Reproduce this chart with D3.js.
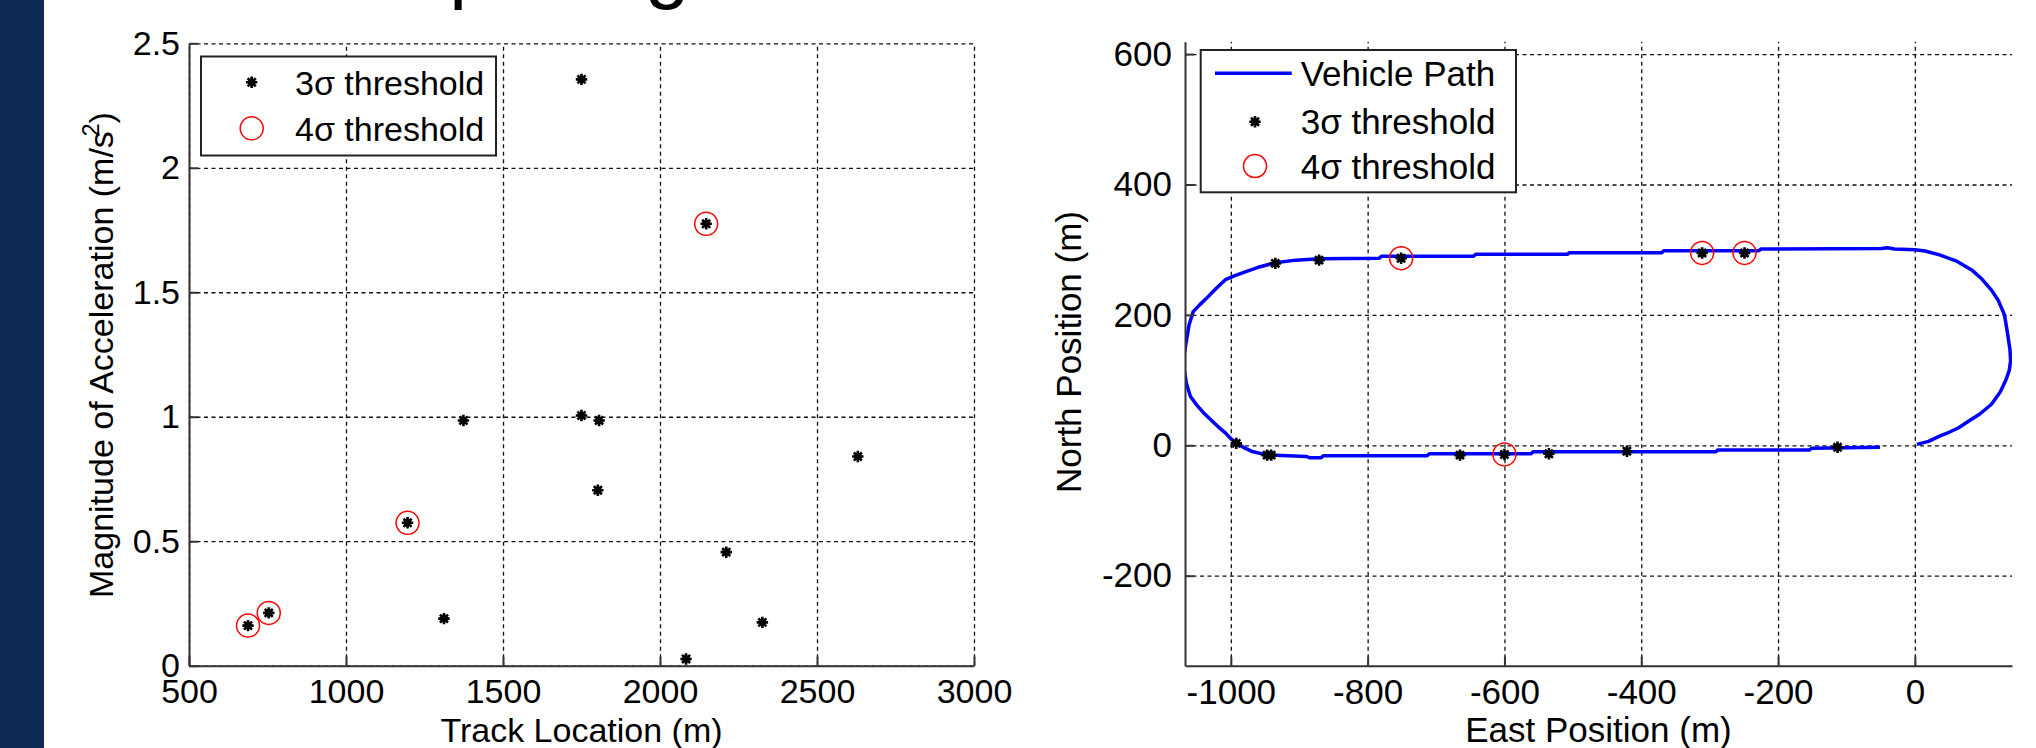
<!DOCTYPE html>
<html lang="en">
<head>
<meta charset="utf-8">
<script src="https://d3js.org/d3.v7.min.js"></script>
<style>
  body { margin: 0; background: #fff; }
  svg text { font-family: "Liberation Sans", Arial, sans-serif; fill: #000; }
  .grid line { stroke: #111; stroke-width: 1.3; stroke-dasharray: 4,3.5; }
  .grid path { display: none; }
  .axis path, .axis line { stroke: #333; stroke-width: 2; }
</style>
</head>
<body>
<div id="chart"></div>
<script>

// ---- left panel: acceleration spikes vs track location ----
var trackLoc3 = [688, 754, 1196, 1312, 1374, 1750, 1750, 1802, 1806, 2083, 2147, 2211, 2326, 2630];
var accel3    = [0.161, 0.212, 0.574, 0.189, 0.985, 2.355, 1.005, 0.705, 0.985, 0.027, 1.775, 0.456, 0.174, 0.84];
var trackLoc4 = [688, 754, 1196, 2147];
var accel4    = [0.161, 0.212, 0.574, 1.775];
var trackTicks = [500, 1000, 1500, 2000, 2500, 3000];
var accelTicks = [0, 0.5, 1, 1.5, 2, 2.5];

// ---- right panel: vehicle path with the same detections ----
var pathEast  = [3, 20, 36, 50, 64, 80, 95, 112, 125, 133, 138, 140, 139, 135, 131, 122, 112, 98, 83, 60, 36, 15, 0, -30, -40, -49,
                 -225, -228, -367, -370, -505, -508, -642, -645, -780, -783, -871, -905, -935,
                 -960, -979, -995, -1008, -1022, -1036, -1046, -1055, -1061, -1065, -1068, -1068, -1065, -1059, -1050, -1040, -1027, -1018, -1008, -1000, -992, -980, -970, -955, -944,
                 -890, -885, -868, -865, -713, -710, -561, -558, -291, -288, -154, -151, -51];
var pathNorth = [1.5, 6, 14, 20, 27, 38, 48, 63, 82, 100, 115, 130, 147, 175, 200, 222, 238, 255, 269, 283, 292, 298, 300, 301, 303, 302,
                 301, 298.5, 298.5, 295.5, 295.5, 293, 293, 290, 290, 287, 286, 284, 280,
                 273, 266, 260, 254, 240, 225, 215, 205, 185, 160, 140, 115, 95, 75, 62, 50, 37, 28, 19, 10, 4, -4, -9, -13, -15,
                 -17, -19, -19, -16, -16, -13, -13, -10, -10, -7, -7, -4.5, -3];
var east3  = [-992, -947, -941, -935, -871, -751, -665, -600, -535, -421, -311, -249, -113];
var north3 = [3, -15, -15, 279, 284, 287, -15, -14, -13, -9, 295, 295, -3];
var east4  = [-751, -600, -311, -249];
var north4 = [287, -14, 295, 295];
var eastTicks  = [-1000, -800, -600, -400, -200, 0];
var northTicks = [-200, 0, 200, 400, 600];

var legendLeft  = ["3\u03c3 threshold", "4\u03c3 threshold"];
var legendRight = ["Vehicle Path", "3\u03c3 threshold", "4\u03c3 threshold"];

var W = 2036, H = 748;
var svg = d3.select("#chart").append("svg").attr("width", W).attr("height", H);
svg.append("rect").attr("width", W).attr("height", H).attr("fill", "#fff");
svg.append("rect").attr("width", 44).attr("height", H).attr("fill", "#0f2b53");

// slide title, mostly above the visible area
svg.append("text").attr("x", 138).attr("y", -7).attr("font-size", 80).text("Outlier Spotting");

// MATLAB style '*' marker
var star = {
  draw: function(ctx, size) {
    var r = Math.sqrt(size) / 2, d = r * Math.SQRT1_2;
    ctx.moveTo(-r, 0); ctx.lineTo(r, 0);
    ctx.moveTo(0, -r); ctx.lineTo(0, r);
    ctx.moveTo(-d, -d); ctx.lineTo(d, d);
    ctx.moveTo(-d, d); ctx.lineTo(d, -d);
  }
};
var starPath = d3.symbol().type(star).size(130)();

function drawStar(g, x, y) {
  g.append("circle").attr("cx", x).attr("cy", y).attr("r", 3.8).attr("fill", "#000");
  g.append("path").attr("d", starPath).attr("transform", "translate(" + x + "," + y + ")")
    .attr("stroke", "#000").attr("stroke-width", 2.6).attr("fill", "none");
}
function drawRing(g, x, y) {
  g.append("circle").attr("cx", x).attr("cy", y).attr("r", 11.5)
    .attr("fill", "none").attr("stroke", "#ff0000").attr("stroke-width", 1.5);
}

function grid(g, x, y, xt, yt) {
  var xr = x.range(), yr = y.range();
  g.append("g").attr("class", "grid").attr("transform", "translate(0," + yr[0] + ")")
    .call(d3.axisBottom(x).tickValues(xt).tickSize(-(yr[0] - yr[1])).tickFormat(""));
  g.append("g").attr("class", "grid").attr("transform", "translate(" + xr[0] + ",0)")
    .call(d3.axisLeft(y).tickValues(yt).tickSize(-(xr[1] - xr[0])).tickFormat(""));
}

function axes(g, x, y, xt, yt, fs, ypad) {
  var xr = x.range(), yr = y.range();
  g.append("g").attr("class", "axis").attr("transform", "translate(0," + yr[0] + ")")
    .call(d3.axisBottom(x).tickValues(xt).tickSizeInner(-9).tickSizeOuter(0).tickPadding(13)
      .tickFormat(function(d) { return String(d); }))
    .attr("font-size", fs).attr("font-family", null);
  g.append("g").attr("class", "axis").attr("transform", "translate(" + xr[0] + ",0)")
    .call(d3.axisLeft(y).tickValues(yt).tickSizeInner(-9).tickSizeOuter(0).tickPadding(ypad)
      .tickFormat(function(d) { return String(d); }))
    .attr("font-size", fs).attr("font-family", null);
}

// ================= left panel =================
var xL = d3.scaleLinear().domain([500, 3000]).range([189, 974]);
var yL = d3.scaleLinear().domain([0, 2.5]).range([665.7, 43.3]);
var gL = svg.append("g");
grid(gL, xL, yL, trackTicks, accelTicks);

trackLoc3.forEach(function(t, i) { drawStar(gL, xL(t), yL(accel3[i])); });
trackLoc4.forEach(function(t, i) { drawRing(gL, xL(t), yL(accel4[i])); });

axes(gL, xL, yL, trackTicks, accelTicks, 34, 9);

gL.append("text").attr("x", 581.5).attr("y", 742).attr("text-anchor", "middle")
  .attr("font-size", 34).text("Track Location (m)");
var yt = gL.append("text").attr("transform", "translate(113,355) rotate(-90)")
  .attr("text-anchor", "middle").attr("font-size", 34);
yt.append("tspan").text("Magnitude of Acceleration (m/s");
yt.append("tspan").attr("font-size", 23).attr("dy", -14).attr("dx", -5).text("2");
yt.append("tspan").attr("dy", 14).text(")");

// legend
var lgL = gL.append("g");
lgL.append("rect").attr("x", 201).attr("y", 56.5).attr("width", 295).attr("height", 99)
  .attr("fill", "#fff").attr("stroke", "#222").attr("stroke-width", 2);
drawStar(lgL, 251.7, 82.3);
drawRing(lgL, 251.7, 128.3);
lgL.selectAll("text.lab").data(legendLeft).enter().append("text").attr("class", "lab")
  .attr("x", 295).attr("y", function(d, i) { return [82.3, 128.3][i] + 12.5; })
  .attr("font-size", 34).text(function(d) { return d; });

// ================= right panel =================
var xR = d3.scaleLinear().domain([-1067, 142]).range([1185, 2012]);
var yR = d3.scaleLinear().domain([-338, 619]).range([665.7, 41.7]);
var gR = svg.append("g");
grid(gR, xR, yR, eastTicks, northTicks);

svg.append("clipPath").attr("id", "clipR").append("rect")
  .attr("x", 1185).attr("y", 41.7).attr("width", 827).attr("height", 624);

var line = d3.line().x(function(d) { return xR(d[0]); }).y(function(d) { return yR(d[1]); });
gR.append("path").datum(pathEast.map(function(e, i) { return [e, pathNorth[i]]; }))
  .attr("clip-path", "url(#clipR)")
  .attr("d", line).attr("fill", "none").attr("stroke", "#0000ff").attr("stroke-width", 3.5)
  .attr("stroke-linejoin", "round");

east3.forEach(function(e, i) { drawStar(gR, xR(e), yR(north3[i])); });
east4.forEach(function(e, i) { drawRing(gR, xR(e), yR(north4[i])); });

axes(gR, xR, yR, eastTicks, northTicks, 35, 13);

gR.append("text").attr("x", 1598.5).attr("y", 742).attr("text-anchor", "middle")
  .attr("font-size", 35).text("East Position (m)");
gR.append("text").attr("transform", "translate(1081,352) rotate(-90)")
  .attr("text-anchor", "middle").attr("font-size", 35).text("North Position (m)");

var lgR = gR.append("g");
lgR.append("rect").attr("x", 1200.7).attr("y", 50).attr("width", 315.3).attr("height", 142.3)
  .attr("fill", "#fff").attr("stroke", "#222").attr("stroke-width", 2);
lgR.append("line").attr("x1", 1215).attr("x2", 1291.7).attr("y1", 73.3).attr("y2", 73.3)
  .attr("stroke", "#0000ff").attr("stroke-width", 3.5);
drawStar(lgR, 1255, 121.7);
drawRing(lgR, 1255, 166);
lgR.selectAll("text.lab").data(legendRight).enter().append("text").attr("class", "lab")
  .attr("x", 1300.7).attr("y", function(d, i) { return [73.3, 121.7, 166][i] + 12.5; })
  .attr("font-size", 35).text(function(d) { return d; });

</script>
</body>
</html>
